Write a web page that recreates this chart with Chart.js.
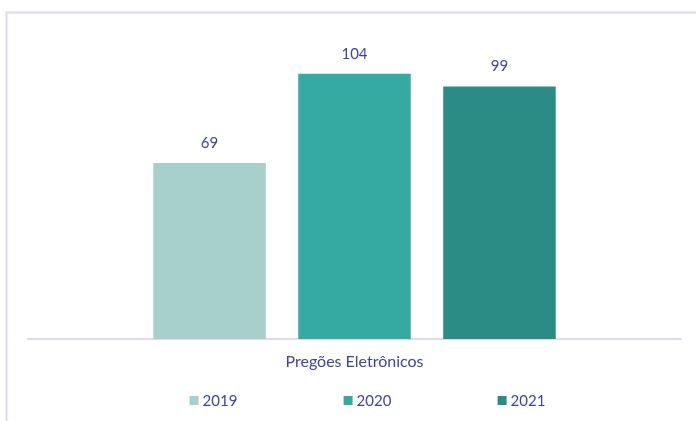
<!DOCTYPE html>
<html>
<head>
<meta charset="utf-8">
<script src="https://cdn.jsdelivr.net/npm/chart.js@4/dist/chart.umd.min.js"></script>
<style>
  html, body { margin: 0; padding: 0; background: #fff; }
  #wrap { width: 696px; height: 421px; }
</style>
</head>
<body>
<div id="wrap"><canvas id="myChart" width="696" height="421"></canvas></div>
<script>
const categories = ['Pregões Eletrônicos']
const years = ['2019', '2020', '2021']
const values2019 = [69]
const values2020 = [104]
const values2021 = [99]
const yTicksMax = 120

const colors = ['#A7CFCB', '#35AAA2', '#2A8C85']
const textColor = '#42429A'
const lineColor = '#DADAF1'
const fontFamily = 'Lato, "Noto Sans", sans-serif'

// frame lines (top + left), like the pasted picture
const framePlugin = {
  id: 'frame',
  beforeDraw (chart) {
    const ctx = chart.ctx
    ctx.save()
    ctx.strokeStyle = lineColor
    ctx.lineWidth = 2
    ctx.beginPath()
    ctx.moveTo(6.5, chart.height)
    ctx.lineTo(6.5, 12.5)
    ctx.lineTo(chart.width, 12.5)
    ctx.stroke()
    ctx.restore()
  }
}

// value labels above bars
const valueLabels = {
  id: 'valueLabels',
  afterDatasetsDraw (chart) {
    const ctx = chart.ctx
    ctx.save()
    ctx.fillStyle = textColor
    ctx.font = '15px ' + fontFamily
    ctx.textAlign = 'center'
    ctx.textBaseline = 'middle'
    chart.data.datasets.forEach((ds, i) => {
      chart.getDatasetMeta(i).data.forEach((bar, j) => {
        ctx.fillText(ds.data[j], bar.x, bar.y - 20)
      })
    })
    ctx.restore()
  }
}

// legend spread out wide at the bottom
const wideLegend = {
  id: 'wideLegend',
  afterDraw (chart) {
    const ctx = chart.ctx
    const spacing = 154
    const centre = 367.5
    const y = 400.5
    ctx.save()
    ctx.font = '15px ' + fontFamily
    ctx.textBaseline = 'middle'
    chart.data.datasets.forEach((ds, i) => {
      const w = 9 + 4 + ctx.measureText(ds.label).width
      const cx = centre + (i - (chart.data.datasets.length - 1) / 2) * spacing
      const x0 = cx - w / 2
      ctx.fillStyle = ds.backgroundColor
      ctx.fillRect(x0, y - 4.5, 9, 9)
      ctx.fillStyle = textColor
      ctx.textAlign = 'left'
      ctx.fillText(ds.label, x0 + 13, y + 0.5)
    })
    ctx.restore()
  }
}

const ctx = document.getElementById('myChart').getContext('2d')
new Chart(ctx, {
  type: 'bar',
  data: {
    labels: categories,
    datasets: [
      { label: years[0], data: values2019, backgroundColor: colors[0] },
      { label: years[1], data: values2020, backgroundColor: colors[1] },
      { label: years[2], data: values2021, backgroundColor: colors[2] }
    ]
  },
  options: {
    responsive: false,
    animation: false,
    layout: { padding: { left: 28, right: 15, top: 33, bottom: 0 } },
    categoryPercentage: 0.666,
    barPercentage: 0.776,
    plugins: {
      legend: { display: false },
      tooltip: { enabled: false }
    },
    scales: {
      y: { display: false, min: 0, max: yTicksMax },
      x: {
        grid: { display: false, drawTicks: false },
        border: { display: true, color: lineColor, width: 2 },
        ticks: { color: textColor, padding: 13, font: { family: fontFamily, size: 16 } },
        afterFit (scale) { scale.height = 82 }
      }
    }
  },
  plugins: [framePlugin, valueLabels, wideLegend]
})
</script>
</body>
</html>
